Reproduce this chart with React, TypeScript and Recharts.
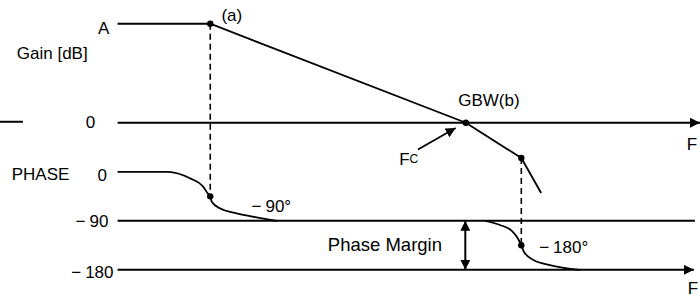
import React from 'react';
import { ComposedChart, Line, XAxis, YAxis, ReferenceDot } from 'recharts';

// x = log10(frequency in Hz): dominant pole (a) near 10 Hz, GBW at 1 MHz, A = 100 dB
const gainTickValues = [100, 0];
const gainTickLabels = ['A', '0'];
const phaseTickValues = [0, -90, -180];
const phaseTickLabels = ['0', '−90', '−180'];

const gainFreq = [-0.84, 0.98, 6.0, 7.09, 7.48];
const gainDb = [100, 100, 0, -35.6, -71];

const phase1Freq = [-0.84, 0.15, 0.58, 0.84, 0.93, 0.98, 1.01, 1.17, 1.5, 1.89, 2.29];
const phase1Deg = [0, 0, -11.8, -27.2, -39.4, -45, -54.8, -66.9, -76.1, -83.5, -90];

const phase2Freq = [6.38, 6.67, 6.9, 7.02, 7.09, 7.14, 7.33, 7.65, 8.24];
const phase2Deg = [-90, -97.6, -108.1, -122.1, -135, -146.7, -162, -171.2, -180];

const poleFreq = [0.98, 7.09];
const poleGainDb = [100, -35.6];
const polePhaseDeg = [-45, -135];
const gbwFreq = 6.0;

const fcArrowFreq = [5.06, 5.8];
const fcArrowDb = [-27, -5.3];
const marginFreq = 5.99;

const axisStartFreq = -0.84;
const gainAxisEndFreq = 10.6;
const minus90EndFreq = 10.5;
const phaseAxisEndFreq = 10.48;
const stubFreq = [-3.15, -2.7];
const stubDb = 1;

// axis domains (the whole 700x297 picture is the plot area)
const X_DOMAIN: [number, number] = [-3.15, 10.6];
const GAIN_DOMAIN: [number, number] = [-176, 124];
const PHASE_DOMAIN: [number, number] = [-230, 316];

const FONT = '"Liberation Sans", Arial, sans-serif';

const pts = (xs: number[], ys: number[]) => xs.map((x, i) => ({ x, y: ys[i] }));
const hline = (x0: number, x1: number, y: number) => [{ x: x0, y }, { x: x1, y }];

// same pixel height on both axes, so a phase value can be expressed on the gain axis
const phaseToGain = (p: number) => {
  const frac = (PHASE_DOMAIN[1] - p) / (PHASE_DOMAIN[1] - PHASE_DOMAIN[0]);
  return GAIN_DOMAIN[1] - frac * (GAIN_DOMAIN[1] - GAIN_DOMAIN[0]);
};

// the source spaces the minus sign away from the digits
const signed = (s: string) =>
  s.startsWith('−') ? (
    <>
      <tspan>−</tspan>
      <tspan dx={4}>{s.slice(1)}</tspan>
    </>
  ) : (
    s
  );

type Note = {
  text: React.ReactNode;
  x: number;
  y: number;
  axis: 'gain' | 'phase';
  anchor: 'start' | 'end';
  size?: number;
  dy?: number;
};

const notes: Note[] = [
  { text: gainTickLabels[0], x: -1.0, y: gainTickValues[0], axis: 'gain', anchor: 'end', dy: 4.4 },
  { text: gainTickLabels[1], x: -1.28, y: gainTickValues[1], axis: 'gain', anchor: 'end' },
  { text: phaseTickLabels[0], x: -1.05, y: phaseTickValues[0], axis: 'phase', anchor: 'end', dy: 4 },
  { text: signed(phaseTickLabels[1]), x: -1.02, y: phaseTickValues[1], axis: 'phase', anchor: 'end' },
  { text: signed(phaseTickLabels[2]), x: -0.92, y: phaseTickValues[2], axis: 'phase', anchor: 'end', dy: 2 },
  { text: 'Gain [dB]', x: -2.82, y: 69.5, axis: 'gain', anchor: 'start' },
  { text: '(a)', x: 1.2, y: 108.8, axis: 'gain', anchor: 'start' },
  { text: 'GBW(b)', x: 5.85, y: 22.5, axis: 'gain', anchor: 'start' },
  { text: 'F', x: 10.34, y: -21.5, axis: 'gain', anchor: 'start' },
  {
    text: (
      <>
        <tspan>F</tspan>
        <tspan fontSize={12}>C</tspan>
      </>
    ),
    x: 4.69, y: -36.6, axis: 'gain', anchor: 'start',
  },
  { text: 'PHASE', x: -2.92, y: -5.7, axis: 'phase', anchor: 'start' },
  { text: signed('−90°'), x: 1.79, y: -61.8, axis: 'phase', anchor: 'start' },
  { text: 'Phase Margin', x: 3.29, y: -134.4, axis: 'phase', anchor: 'start', size: 18.5 },
  { text: signed('−180°'), x: 7.44, y: -137.5, axis: 'phase', anchor: 'start' },
  { text: 'F', x: 10.36, y: -214, axis: 'phase', anchor: 'start' },
];

const textShape = (n: Note) => (props: any) => (
  <text
    x={props.cx}
    y={props.cy}
    dy={n.dy ?? 0}
    textAnchor={n.anchor}
    dominantBaseline="central"
    fontFamily={FONT}
    fontSize={n.size ?? 17}
    fill="#000"
  >
    {n.text}
  </text>
);

const common = {
  dataKey: 'y',
  dot: false,
  activeDot: false,
  isAnimationActive: false,
  stroke: '#000',
  type: 'linear' as const,
  legendType: 'none' as const,
};

const App: React.FC = () => {
  return (
    <div style={{ position: 'absolute', left: 0, top: 0, width: 700, height: 297, background: '#fff' }}>
      <svg width={0} height={0} style={{ position: 'absolute' }}>
        <defs>
          <marker
            id="arrowHead"
            viewBox="0 0 10 10"
            refX={10}
            refY={5}
            markerWidth={10}
            markerHeight={10}
            markerUnits="userSpaceOnUse"
            orient="auto-start-reverse"
          >
            <path d="M0,0 L10,5 L0,10 z" fill="#000" />
          </marker>
        </defs>
      </svg>
      <ComposedChart width={700} height={297} margin={{ top: 0, right: 0, bottom: 0, left: 0 }}>
        <XAxis type="number" dataKey="x" domain={X_DOMAIN} allowDataOverflow hide />
        <YAxis yAxisId="gain" type="number" domain={GAIN_DOMAIN} allowDataOverflow hide />
        <YAxis yAxisId="phase" type="number" domain={PHASE_DOMAIN} allowDataOverflow hide />

        {/* axis lines */}
        <Line {...common} yAxisId="gain" data={hline(stubFreq[0], stubFreq[1], stubDb)} strokeWidth={2} />
        <Line {...common} yAxisId="gain" data={hline(axisStartFreq, gainAxisEndFreq, 0)} strokeWidth={2} markerEnd="url(#arrowHead)" />
        <Line {...common} yAxisId="phase" data={hline(axisStartFreq, minus90EndFreq, -90)} strokeWidth={2} />
        <Line {...common} yAxisId="phase" data={hline(axisStartFreq, phaseAxisEndFreq, -180)} strokeWidth={2} markerEnd="url(#arrowHead)" />

        {/* gain and phase curves */}
        <Line {...common} yAxisId="gain" data={pts(gainFreq, gainDb)} strokeWidth={1.8} />
        <Line {...common} yAxisId="phase" type="monotone" data={pts(phase1Freq, phase1Deg)} strokeWidth={1.8} />
        <Line {...common} yAxisId="phase" type="monotone" data={pts(phase2Freq, phase2Deg)} strokeWidth={1.8} />

        {/* dashed links between gain and phase at the poles */}
        {poleFreq.map((f, i) => (
          <Line
            key={`dash-${i}`}
            {...common}
            yAxisId="gain"
            data={[{ x: f, y: poleGainDb[i] }, { x: f, y: phaseToGain(polePhaseDeg[i]) }]}
            strokeWidth={1.6}
            strokeDasharray="6 4"
          />
        ))}

        {/* Fc pointer and phase margin */}
        <Line {...common} yAxisId="gain" data={pts(fcArrowFreq, fcArrowDb)} strokeWidth={1.8} markerEnd="url(#arrowHead)" />
        <Line
          {...common}
          yAxisId="phase"
          data={[{ x: marginFreq, y: -90 }, { x: marginFreq, y: -180 }]}
          strokeWidth={2}
          markerStart="url(#arrowHead)"
          markerEnd="url(#arrowHead)"
        />

        {/* points */}
        {poleFreq.map((f, i) => (
          <ReferenceDot key={`pg-${i}`} yAxisId="gain" x={f} y={poleGainDb[i]} r={3.2} fill="#000" stroke="none" />
        ))}
        {poleFreq.map((f, i) => (
          <ReferenceDot key={`pp-${i}`} yAxisId="phase" x={f} y={polePhaseDeg[i]} r={3.2} fill="#000" stroke="none" />
        ))}
        <ReferenceDot yAxisId="gain" x={gbwFreq} y={0} r={3.2} fill="#000" stroke="none" />

        {/* text */}
        {notes.map((n, i) => (
          <ReferenceDot key={`t-${i}`} yAxisId={n.axis} x={n.x} y={n.y} r={1} shape={textShape(n)} />
        ))}
      </ComposedChart>
    </div>
  );
};

export default App;
